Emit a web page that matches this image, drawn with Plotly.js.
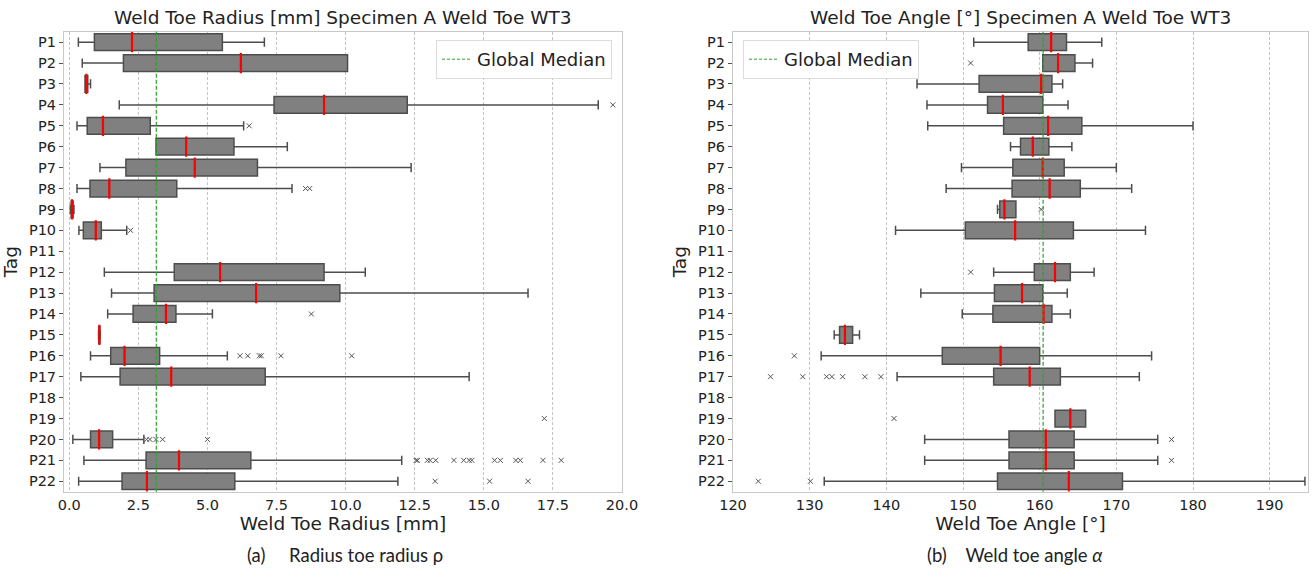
<!DOCTYPE html>
<html><head><meta charset="utf-8">
<script src="https://cdn.plot.ly/plotly-3.0.1.min.js"></script>
<style>html,body{margin:0;padding:0;background:#fff}#c{width:1312px;height:571px}</style>
</head><body><div id="c"></div>
<script>
const tags = ["P1","P2","P3","P4","P5","P6","P7","P8","P9","P10","P11","P12","P13","P14","P15","P16","P17","P18","P19","P20","P21","P22"];

// Weld toe radius [mm]
const radLow = [0.33,0.47,0.57,1.81,0.28,3.14,1.11,0.28,0.04,0.35,null,1.27,1.53,1.39,1.06,0.77,0.42,null,null,0.13,0.53,0.34];
const radQ1  = [0.91,1.96,0.57,7.41,0.65,3.14,2.05,0.75,0.07,0.51,null,3.80,3.07,2.31,1.07,1.50,1.84,null,null,0.77,2.78,1.91];
const radMed = [2.27,6.21,0.62,9.22,1.22,4.23,4.54,1.45,0.10,0.96,null,5.46,6.76,3.50,1.09,2.00,3.69,null,null,1.08,3.97,2.81];
const radQ3  = [5.54,10.07,0.67,12.23,2.93,5.96,6.81,3.89,0.14,1.16,null,9.22,9.79,3.86,1.11,3.27,7.09,null,null,1.57,6.57,5.99];
const radHigh= [7.06,10.07,0.77,19.14,6.31,7.89,12.37,8.06,0.17,2.08,null,10.71,16.6,5.18,1.12,5.72,14.47,null,null,2.70,12.03,11.89];
const radOutTag = ["P4","P5","P8","P8","P10","P14","P16","P16","P16","P16","P16","P16","P19","P20","P20","P20","P20","P20",
  "P21","P21","P21","P21","P21","P21","P21","P21","P21","P21","P21","P21","P21","P21","P21","P22","P22","P22"];
const radOutVal = [19.67,6.51,8.55,8.70,2.22,8.76,6.18,6.46,6.88,6.95,7.66,10.22,17.19,2.80,2.92,3.14,3.38,5.00,
  12.55,12.60,12.96,13.06,13.26,13.92,14.27,14.47,14.57,15.39,15.60,16.16,16.32,17.14,17.80,13.24,15.21,16.60];
const radGlobalMedian = 3.15;

// Weld toe angle [deg]
const angLow = [151.4,160.4,144.0,145.3,145.4,156.2,149.8,147.8,154.5,141.2,null,154.0,144.5,149.9,133.2,131.5,141.4,null,162.0,145.0,145.0,131.9];
const angQ1  = [158.5,160.4,152.1,153.2,155.3,157.5,156.5,156.4,154.8,150.3,null,159.3,154.1,153.9,133.9,147.3,154.0,null,162.0,156.0,156.0,154.5];
const angMed = [161.5,162.4,160.2,155.2,161.1,159.1,160.4,161.3,155.4,156.8,null,162.0,157.7,160.5,134.6,154.9,158.7,null,164.0,160.8,160.8,163.8];
const angQ3  = [163.5,164.6,161.6,160.4,165.5,161.2,163.2,165.3,156.9,164.4,null,164.0,160.4,161.6,135.6,160.0,162.7,null,166.0,164.5,164.5,170.8];
const angHigh= [168.1,166.9,163.0,163.7,180.0,164.2,170.0,172.0,156.9,173.8,null,167.1,163.6,164.0,136.5,174.6,173.0,null,166.0,175.4,175.4,194.6];
const angOutTag = ["P2","P9","P12","P16","P17","P17","P17","P17","P17","P17","P17","P19","P20","P21","P22","P22"];
const angOutVal = [151.0,160.2,151.0,128.0,124.9,129.1,132.2,132.9,134.3,137.2,139.3,141.0,177.2,177.2,123.3,130.1];
const angGlobalMedian = 160.45;

function boxTrace(low,q1,med,q3,high,xa,ya){
  const idx = tags.map((t,i)=>i).filter(i=>q1[i]!==null);
  return {type:'box', orientation:'h', xaxis:xa, yaxis:ya, showlegend:false,
    y: idx.map(i=>tags[i]), q1: idx.map(i=>q1[i]), median: idx.map(i=>med[i]), q3: idx.map(i=>q3[i]),
    lowerfence: idx.map(i=>low[i]), upperfence: idx.map(i=>high[i]),
    width:0.8, whiskerwidth:0.55, fillcolor:'#808080', line:{color:'#4d4d4d',width:1.5},
    boxpoints:false, hoverinfo:'skip'};
}
function medTrace(med,xa,ya){
  const idx = tags.map((t,i)=>i).filter(i=>med[i]!==null);
  return {type:'scatter', mode:'markers', xaxis:xa, yaxis:ya, showlegend:false,
    x: idx.map(i=>med[i]), y: idx.map(i=>tags[i]),
    marker:{symbol:'line-ns', size:14.5, line:{color:'#ff0000', width:2.2}}, hoverinfo:'skip'};
}
function outTrace(tg,vals,xa,ya){
  return {type:'scatter', mode:'markers', xaxis:xa, yaxis:ya, showlegend:false, x: vals, y: tg,
    marker:{symbol:'x-thin', size:5, line:{color:'#555', width:1}}, hoverinfo:'skip'};
}
function legTrace(xa,ya,leg){
  return {type:'scatter', mode:'lines', xaxis:xa, yaxis:ya, x:[null], y:[null], name:'Global Median',
    legend:leg, showlegend:true, line:{color:'#2ca02c', width:1, dash:'3px,2px'}};
}

const data = [
  boxTrace(radLow,radQ1,radMed,radQ3,radHigh,'x','y'),
  medTrace(radMed,'x','y'),
  outTrace(radOutTag,radOutVal,'x','y'),
  legTrace('x','y','legend'),
  boxTrace(angLow,angQ1,angMed,angQ3,angHigh,'x2','y2'),
  medTrace(angMed,'x2','y2'),
  outTrace(angOutTag,angOutVal,'x2','y2'),
  legTrace('x2','y2','legend2')
];

const F = 'DejaVu Sans, sans-serif';
const CF = 'Lato, Open Sans, sans-serif';
const ydom = [1-491.7/571, 1-31.7/571];
const yax = ()=>({domain:ydom, type:'category', categoryarray:tags, categoryorder:'array', range:[21.5,-0.5],
  showgrid:false, zeroline:false, showline:true, mirror:true, linecolor:'#c8c8c8', linewidth:1,
  ticks:'outside', ticklen:4, tickcolor:'#555', tickfont:{family:F,size:14.5,color:'#222'},
  title:{text:'Tag', font:{family:F,size:18.5,color:'#222'}, standoff:6}});
const xax = (dom,range,dtick,tick0,fmt,title)=>({domain:dom, range:range, dtick:dtick, tick0:tick0, tickformat:fmt,
  showgrid:true, gridcolor:'#b4b4b4', griddash:'3px,2px', gridwidth:0.8, zeroline:false,
  showline:true, mirror:true, linecolor:'#c8c8c8', linewidth:1, ticks:'',
  tickfont:{family:F,size:14.5,color:'#222'}, title:{text:title, font:{family:F,size:18.5,color:'#222'}, standoff:4}});

const layout = {
  width:1312, height:571, margin:{l:0,r:0,t:0,b:0}, paper_bgcolor:'#fff', plot_bgcolor:'#fff',
  font:{family:F},
  xaxis: xax([64/1312, 622/1312],[-0.19,20],2.5,0,'.1f','Weld Toe Radius [mm]'),
  yaxis: Object.assign(yax(), {anchor:'x'}),
  xaxis2: Object.assign(xax([733/1312, 1308/1312],[120,195],10,120,'d','Weld Toe Angle [°]'),{anchor:'y2'}),
  yaxis2: Object.assign(yax(), {anchor:'x2'}),
  legend:{x:612/1312, xanchor:'right', y:1-40/571, yanchor:'top', bgcolor:'rgba(255,255,255,0.9)',
    bordercolor:'#dddddd', borderwidth:1, font:{family:F,size:18,color:'#222'}},
  legend2:{x:743/1312, xanchor:'left', y:1-40/571, yanchor:'top', bgcolor:'rgba(255,255,255,0.9)',
    bordercolor:'#dddddd', borderwidth:1, font:{family:F,size:18,color:'#222'}},
  shapes:[
    {type:'line', xref:'x', yref:'y domain', x0:radGlobalMedian, x1:radGlobalMedian, y0:0, y1:1, line:{color:'#2ca02c',width:1.2,dash:'4px,2px'}},
    {type:'line', xref:'x2', yref:'y2 domain', x0:angGlobalMedian, x1:angGlobalMedian, y0:0, y1:1, line:{color:'#2ca02c',width:1.2,dash:'4px,2px'}}
  ],
  annotations:[
    {text:'Weld Toe Radius [mm] Specimen A Weld Toe WT3', xref:'x domain', yref:'paper', x:0.5, y:1-18/571, xanchor:'center', yanchor:'middle', showarrow:false, font:{family:F,size:18.5,color:'#222'}},
    {text:'Weld Toe Angle [°] Specimen A Weld Toe WT3', xref:'x2 domain', yref:'paper', x:0.5, y:1-18/571, xanchor:'center', yanchor:'middle', showarrow:false, font:{family:F,size:18.5,color:'#222'}},
    {text:'(a)\u00A0\u00A0\u00A0\u00A0\u00A0Radius toe radius ρ', xref:'paper', yref:'paper', x:345/1312, y:1-555/571, xanchor:'center', yanchor:'middle', showarrow:false, font:{family:CF,size:18.5,color:'#222'}},
    {text:'(b)\u00A0\u00A0\u00A0\u00A0Weld toe angle <i>α</i>', xref:'paper', yref:'paper', x:1015/1312, y:1-555/571, xanchor:'center', yanchor:'middle', showarrow:false, font:{family:CF,size:18.5,color:'#222'}}
  ]
};
Plotly.newPlot('c', data, layout, {staticPlot:true});
</script></body></html>
